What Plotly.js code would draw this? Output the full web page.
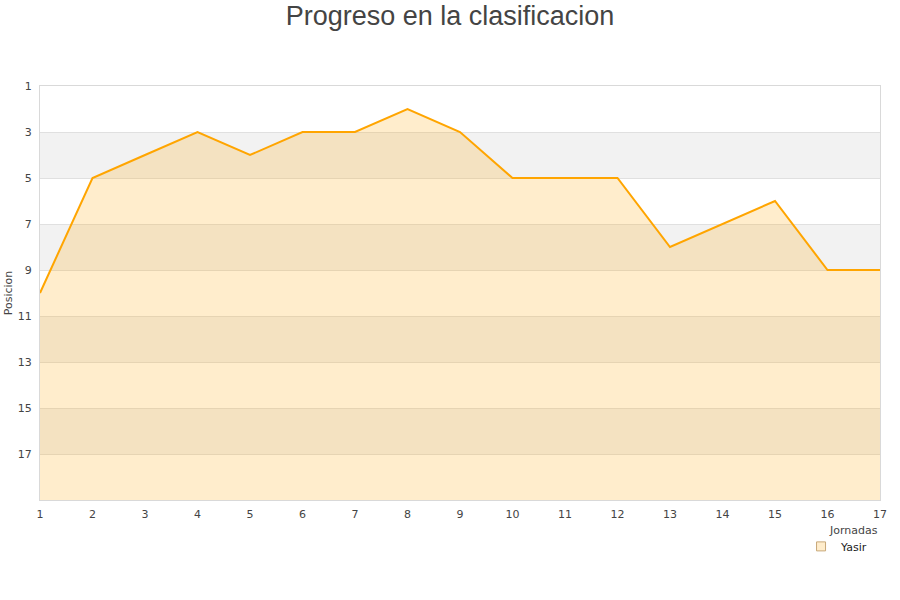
<!DOCTYPE html>
<html>
<head>
<meta charset="utf-8">
<script src="https://cdn.plot.ly/plotly-3.0.1.min.js"></script>
<style>html,body{margin:0;padding:0;background:#fff;}#chart{width:900px;height:600px;}</style>
</head>
<body>
<div id="chart"></div>
<script>
var jornadas = [1,2,3,4,5,6,7,8,9,10,11,12,13,14,15,16,17];
var posiciones = [10,5,4,3,4,3,3,2,3,5,5,5,8,7,6,9,9];
var seriesName = "Yasir";
var yTicks = [1,3,5,7,9,11,13,15,17];
var yBottom = 19;
var bandStarts = [3,7,11,15];

var shapes = bandStarts.map(function(s){
  return {type:'rect', xref:'paper', yref:'y', x0:0, x1:1, y0:s, y1:s+2,
          fillcolor:'#f2f2f2', line:{width:0}, layer:'below'};
});

var traces = [
  {x:[jornadas[0], jornadas[jornadas.length-1]], y:[yBottom, yBottom], mode:'lines',
   line:{width:0}, showlegend:false, hoverinfo:'skip'},
  {x:jornadas, y:posiciones, mode:'lines', name:seriesName, fill:'tonexty',
   fillcolor:'rgba(255,165,0,0.2)', line:{color:'#FFA500', width:2}, showlegend:false},
  {x:[null], y:[null], mode:'markers', name:seriesName,
   marker:{symbol:'square', size:9, color:'#FFEDCC', line:{color:'#c8a878', width:1}}}
];

var layout = {
  width:900, height:600,
  paper_bgcolor:'#fff', plot_bgcolor:'#fff',
  margin:{l:40, r:20, t:86, b:100},
  title:{text:'Progreso en la clasificacion', x:0.5, xanchor:'center', y:0.99, yanchor:'top',
         font:{family:'Liberation Sans, Arial, sans-serif', size:27, color:'#444'}},
  font:{family:'DejaVu Sans, sans-serif', size:11, color:'#444'},
  xaxis:{range:[1,17], tickmode:'array', tickvals:jornadas, showgrid:false, zeroline:false,
         showline:true, linecolor:'#d9d9d9', linewidth:1, mirror:true, ticks:'',
         ticklabelstandoff:4,
         tickfont:{size:11, color:'#444'}, fixedrange:true},
  yaxis:{range:[yBottom,1], tickmode:'array', tickvals:yTicks, showgrid:true, gridcolor:'#e0e0e0',
         zeroline:false, showline:true, linecolor:'#d9d9d9', mirror:true, ticks:'',
         ticklabelstandoff:5,
         tickfont:{size:11, color:'#444'},
         title:{text:'Posicion', font:{size:11, color:'#444'}, standoff:2}},
  shapes:shapes,
  annotations:[{text:'Jornadas', xref:'paper', yref:'paper', x:1, y:-0.0725, xanchor:'right', yanchor:'middle',
                showarrow:false, font:{size:11, color:'#444'}}],
  showlegend:true,
  legend:{x:0.906, xanchor:'left', y:-0.077, yanchor:'top', bgcolor:'rgba(255,255,255,0)',
          font:{size:11, color:'#222'}, itemwidth:30, tracegroupgap:0}
};

Plotly.newPlot('chart', traces, layout, {displayModeBar:false, staticPlot:true});
</script>
</body>
</html>
